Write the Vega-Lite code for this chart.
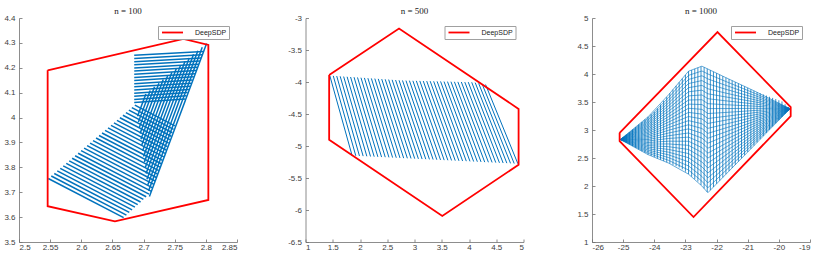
{
"$schema": "https://vega.github.io/schema/vega-lite/v6.json",
"autosize": {"type": "pad"},
"padding": {"left": 3, "top": 7, "right": 5, "bottom": 5},
"spacing": 68.5,
"bounds": "flush",
"datasets": {
"p1r": [{"o":0,"x":2.546,"y":4.19,"s":"DeepSDP"},{"o":1,"x":2.764,"y":4.316,"s":"DeepSDP"},{"o":2,"x":2.804,"y":4.292,"s":"DeepSDP"},{"o":3,"x":2.804,"y":3.669,"s":"DeepSDP"},{"o":4,"x":2.654,"y":3.583,"s":"DeepSDP"},{"o":5,"x":2.546,"y":3.644,"s":"DeepSDP"},{"o":6,"x":2.546,"y":4.19,"s":"DeepSDP"}],
"p1b": [
{"x":2.547,"y":3.755,"x2":2.668,"y2":3.598},{"x":2.5518,"y":3.7652,"x2":2.6725,"y2":3.6082},{"x":2.5566,"y":3.7753,"x2":2.6771,"y2":3.6187},{"x":2.5614,"y":3.7855,"x2":2.6816,"y2":3.6292},{"x":2.5662,"y":3.7957,"x2":2.6861,"y2":3.6398},{"x":2.571,"y":3.8059,"x2":2.6906,"y2":3.6503},{"x":2.5758,"y":3.816,"x2":2.6952,"y2":3.6607},{"x":2.5806,"y":3.8262,"x2":2.6997,"y2":3.6713},{"x":2.5853,"y":3.8364,"x2":2.7042,"y2":3.6818},{"x":2.5901,"y":3.8466,"x2":2.7087,"y2":3.6924},{"x":2.5949,"y":3.8567,"x2":2.7126,"y2":3.7037},{"x":2.5997,"y":3.8669,"x2":2.7145,"y2":3.7176},{"x":2.6045,"y":3.8771,"x2":2.7165,"y2":3.7314},{"x":2.6093,"y":3.8872,"x2":2.7185,"y2":3.7452},{"x":2.6141,"y":3.8974,"x2":2.7205,"y2":3.759},{"x":2.6189,"y":3.9076,"x2":2.7225,"y2":3.7728},{"x":2.6237,"y":3.9178,"x2":2.7244,"y2":3.7868},{"x":2.6285,"y":3.9279,"x2":2.7264,"y2":3.8006},{"x":2.6333,"y":3.9381,"x2":2.7284,"y2":3.8144},{"x":2.6381,"y":3.9483,"x2":2.7304,"y2":3.8282},{"x":2.6429,"y":3.9584,"x2":2.7324,"y2":3.842},{"x":2.6477,"y":3.9686,"x2":2.7344,"y2":3.8558},{"x":2.6524,"y":3.9788,"x2":2.7363,"y2":3.8697},{"x":2.6572,"y":3.989,"x2":2.7383,"y2":3.8835},{"x":2.662,"y":3.9991,"x2":2.7403,"y2":3.8973},{"x":2.6668,"y":4.0093,"x2":2.7423,"y2":3.9111},{"x":2.6716,"y":4.0195,"x2":2.7443,"y2":3.9249},{"x":2.6764,"y":4.0297,"x2":2.7462,"y2":3.9388},{"x":2.6812,"y":4.0398,"x2":2.7482,"y2":3.9526},{"x":2.686,"y":4.05,"x2":2.7502,"y2":3.9665},
{"x":2.685,"y":4.25,"x2":2.7962,"y2":4.265},{"x":2.685,"y":4.2373,"x2":2.7942,"y2":4.2523},{"x":2.685,"y":4.2247,"x2":2.7923,"y2":4.2397},{"x":2.685,"y":4.212,"x2":2.7903,"y2":4.227},{"x":2.685,"y":4.1993,"x2":2.7884,"y2":4.2143},{"x":2.685,"y":4.1867,"x2":2.7864,"y2":4.2017},{"x":2.685,"y":4.174,"x2":2.7845,"y2":4.189},{"x":2.685,"y":4.1613,"x2":2.7825,"y2":4.1763},{"x":2.685,"y":4.1487,"x2":2.7806,"y2":4.1637},{"x":2.685,"y":4.136,"x2":2.7786,"y2":4.151},{"x":2.685,"y":4.1233,"x2":2.7767,"y2":4.1383},{"x":2.685,"y":4.1107,"x2":2.7747,"y2":4.1257},{"x":2.685,"y":4.098,"x2":2.7728,"y2":4.113},{"x":2.685,"y":4.0853,"x2":2.7708,"y2":4.1003},{"x":2.685,"y":4.0727,"x2":2.7689,"y2":4.0877},{"x":2.685,"y":4.06,"x2":2.7669,"y2":4.075},
{"x":2.7094,"y":3.6829,"x2":2.8012,"y2":4.2974},{"x":2.7081,"y":3.7059,"x2":2.7942,"y2":4.2829},{"x":2.7067,"y":3.7289,"x2":2.7872,"y2":4.2684},{"x":2.7054,"y":3.7519,"x2":2.7803,"y2":4.254},{"x":2.704,"y":3.7749,"x2":2.7733,"y2":4.2395},{"x":2.7026,"y":3.7979,"x2":2.7664,"y2":4.225},{"x":2.7012,"y":3.8209,"x2":2.7594,"y2":4.2105},{"x":2.6999,"y":3.8439,"x2":2.7524,"y2":4.196},{"x":2.6985,"y":3.8669,"x2":2.7455,"y2":4.1816},{"x":2.6971,"y":3.8899,"x2":2.7385,"y2":4.1671},{"x":2.6958,"y":3.9129,"x2":2.7316,"y2":4.1526},{"x":2.6944,"y":3.9359,"x2":2.7246,"y2":4.1381},{"x":2.693,"y":3.9589,"x2":2.7176,"y2":4.1236},{"x":2.6917,"y":3.9819,"x2":2.7107,"y2":4.1091},{"x":2.6903,"y":4.0049,"x2":2.7037,"y2":4.0947}
],
"p2r": [{"o":0,"x":1.434,"y":-3.89,"s":"DeepSDP"},{"o":1,"x":2.716,"y":-3.166,"s":"DeepSDP"},{"o":2,"x":4.91,"y":-4.42,"s":"DeepSDP"},{"o":3,"x":4.91,"y":-5.293,"s":"DeepSDP"},{"o":4,"x":3.51,"y":-6.094,"s":"DeepSDP"},{"o":5,"x":1.434,"y":-4.903,"s":"DeepSDP"},{"o":6,"x":1.434,"y":-3.89,"s":"DeepSDP"}],
"p2b": [
{"x":1.446,"y":-3.9,"x2":1.855,"y2":-5.15},{"x":1.5095,"y":-3.904,"x2":1.9226,"y2":-5.153},{"x":1.573,"y":-3.907,"x2":1.9902,"y2":-5.156},{"x":1.6365,"y":-3.911,"x2":2.0578,"y2":-5.158},{"x":1.7,"y":-3.915,"x2":2.1254,"y2":-5.161},{"x":1.7636,"y":-3.918,"x2":2.193,"y2":-5.164},{"x":1.8271,"y":-3.922,"x2":2.2606,"y2":-5.167},{"x":1.8906,"y":-3.925,"x2":2.3282,"y2":-5.17},{"x":1.9541,"y":-3.929,"x2":2.3958,"y2":-5.173},{"x":2.0176,"y":-3.933,"x2":2.4634,"y2":-5.175},{"x":2.0811,"y":-3.936,"x2":2.531,"y2":-5.178},{"x":2.1446,"y":-3.94,"x2":2.5986,"y2":-5.181},{"x":2.2081,"y":-3.944,"x2":2.6662,"y2":-5.184},{"x":2.2716,"y":-3.947,"x2":2.7338,"y2":-5.187},{"x":2.3351,"y":-3.951,"x2":2.8014,"y2":-5.19},{"x":2.3987,"y":-3.955,"x2":2.869,"y2":-5.192},{"x":2.4622,"y":-3.958,"x2":2.9366,"y2":-5.195},{"x":2.5257,"y":-3.962,"x2":3.0042,"y2":-5.198},{"x":2.5892,"y":-3.966,"x2":3.0718,"y2":-5.201},{"x":2.6527,"y":-3.969,"x2":3.1394,"y2":-5.204},{"x":2.7162,"y":-3.973,"x2":3.207,"y2":-5.206},{"x":2.7797,"y":-3.976,"x2":3.2746,"y2":-5.209},{"x":2.8432,"y":-3.978,"x2":3.3422,"y2":-5.212},{"x":2.9067,"y":-3.979,"x2":3.4098,"y2":-5.215},{"x":2.9702,"y":-3.981,"x2":3.4774,"y2":-5.218},{"x":3.0337,"y":-3.982,"x2":3.545,"y2":-5.221},{"x":3.0972,"y":-3.983,"x2":3.6126,"y2":-5.223},{"x":3.1607,"y":-3.985,"x2":3.6802,"y2":-5.226},{"x":3.2243,"y":-3.986,"x2":3.7478,"y2":-5.229},{"x":3.2878,"y":-3.987,"x2":3.8154,"y2":-5.232},{"x":3.3513,"y":-3.989,"x2":3.883,"y2":-5.235},{"x":3.4148,"y":-3.99,"x2":3.9506,"y2":-5.237},{"x":3.4783,"y":-3.991,"x2":4.0182,"y2":-5.24},{"x":3.5418,"y":-3.993,"x2":4.0858,"y2":-5.243},{"x":3.6053,"y":-3.994,"x2":4.1534,"y2":-5.246},{"x":3.6688,"y":-3.995,"x2":4.221,"y2":-5.249},{"x":3.7323,"y":-3.997,"x2":4.2886,"y2":-5.252},{"x":3.7958,"y":-3.998,"x2":4.3562,"y2":-5.254},{"x":3.8593,"y":-4.0,"x2":4.4238,"y2":-5.257},{"x":3.9228,"y":-4.001,"x2":4.4914,"y2":-5.26},{"x":3.9863,"y":-4.002,"x2":4.559,"y2":-5.263},{"x":4.0498,"y":-4.004,"x2":4.6266,"y2":-5.266},{"x":4.1133,"y":-4.01,"x2":4.6942,"y2":-5.268},{"x":4.1768,"y":-4.02,"x2":4.7618,"y2":-5.271},{"x":4.2403,"y":-4.03,"x2":4.8294,"y2":-5.274},{"x":4.3038,"y":-4.04,"x2":4.897,"y2":-5.277}
],
"p3r": [{"o":0,"x":-25.113,"y":2.949,"s":"DeepSDP"},{"o":1,"x":-21.971,"y":4.75,"s":"DeepSDP"},{"o":2,"x":-19.62,"y":3.407,"s":"DeepSDP"},{"o":3,"x":-19.62,"y":3.247,"s":"DeepSDP"},{"o":4,"x":-22.74,"y":1.446,"s":"DeepSDP"},{"o":5,"x":-25.113,"y":2.801,"s":"DeepSDP"},{"o":6,"x":-25.113,"y":2.949,"s":"DeepSDP"}],
"p3v": [
{"x":-25.0,"y":2.871,"y2":2.803},{"x":-24.9,"y":2.917,"y2":2.772},{"x":-24.8,"y":2.962,"y2":2.742},{"x":-24.7,"y":3.008,"y2":2.712},{"x":-24.6,"y":3.053,"y2":2.681},{"x":-24.5,"y":3.099,"y2":2.651},{"x":-24.4,"y":3.144,"y2":2.621},{"x":-24.3,"y":3.19,"y2":2.59},{"x":-24.2,"y":3.235,"y2":2.56},{"x":-24.1,"y":3.281,"y2":2.537},{"x":-24.0,"y":3.326,"y2":2.514},{"x":-23.9,"y":3.387,"y2":2.491},{"x":-23.8,"y":3.455,"y2":2.469},{"x":-23.7,"y":3.522,"y2":2.446},{"x":-23.6,"y":3.59,"y2":2.423},{"x":-23.5,"y":3.656,"y2":2.4},{"x":-23.4,"y":3.722,"y2":2.377},{"x":-23.3,"y":3.788,"y2":2.354},{"x":-23.2,"y":3.853,"y2":2.331},{"x":-23.1,"y":3.919,"y2":2.298},{"x":-23.0,"y":3.984,"y2":2.255},{"x":-22.9,"y":4.05,"y2":2.211},{"x":-22.8,"y":4.071,"y2":2.167},{"x":-22.7,"y":4.092,"y2":2.124},{"x":-22.6,"y":4.113,"y2":2.08},{"x":-22.5,"y":4.134,"y2":2.018},{"x":-22.4,"y":4.121,"y2":1.955},{"x":-22.3,"y":4.095,"y2":1.893},{"x":-22.2,"y":4.068,"y2":1.925},{"x":-22.1,"y":4.041,"y2":1.982},{"x":-22.0,"y":4.015,"y2":2.039},{"x":-21.9,"y":3.988,"y2":2.096},{"x":-21.8,"y":3.961,"y2":2.153},{"x":-21.7,"y":3.935,"y2":2.21},{"x":-21.6,"y":3.909,"y2":2.266},{"x":-21.5,"y":3.883,"y2":2.323},{"x":-21.4,"y":3.857,"y2":2.38},{"x":-21.3,"y":3.831,"y2":2.437},{"x":-21.2,"y":3.805,"y2":2.494},{"x":-21.1,"y":3.779,"y2":2.55},{"x":-21.0,"y":3.753,"y2":2.607},{"x":-20.9,"y":3.726,"y2":2.664},{"x":-20.8,"y":3.7,"y2":2.721},{"x":-20.7,"y":3.677,"y2":2.778},{"x":-20.6,"y":3.657,"y2":2.835},{"x":-20.5,"y":3.636,"y2":2.891},{"x":-20.4,"y":3.615,"y2":2.948},{"x":-20.3,"y":3.594,"y2":3.005},{"x":-20.2,"y":3.573,"y2":3.062},{"x":-20.1,"y":3.552,"y2":3.119},{"x":-20.0,"y":3.531,"y2":3.175},{"x":-19.9,"y":3.51,"y2":3.232},{"x":-19.8,"y":3.46,"y2":3.289},{"x":-19.7,"y":3.41,"y2":3.346}
],
"p3h": [
{"k":0,"x":-25.09,"y":2.83},{"k":0,"x":-24.2,"y":2.56},{"k":0,"x":-23.54,"y":2.409},{"k":0,"x":-22.9,"y":2.211},{"k":0,"x":-22.47,"y":1.999},{"k":0,"x":-22.28,"y":1.88},{"k":0,"x":-21.72,"y":2.198},{"k":0,"x":-20.76,"y":2.743},{"k":0,"x":-19.64,"y":3.38},
{"k":1,"x":-25.09,"y":2.83},{"k":1,"x":-24.2,"y":2.587},{"k":1,"x":-23.54,"y":2.458},{"k":1,"x":-22.9,"y":2.285},{"k":1,"x":-22.47,"y":2.085},{"k":1,"x":-22.28,"y":1.968},{"k":1,"x":-21.72,"y":2.268},{"k":1,"x":-20.76,"y":2.781},{"k":1,"x":-19.64,"y":3.38},
{"k":2,"x":-25.09,"y":2.83},{"k":2,"x":-24.2,"y":2.614},{"k":2,"x":-23.54,"y":2.507},{"k":2,"x":-22.9,"y":2.358},{"k":2,"x":-22.47,"y":2.17},{"k":2,"x":-22.28,"y":2.057},{"k":2,"x":-21.72,"y":2.337},{"k":2,"x":-20.76,"y":2.819},{"k":2,"x":-19.64,"y":3.38},
{"k":3,"x":-25.09,"y":2.83},{"k":3,"x":-24.2,"y":2.641},{"k":3,"x":-23.54,"y":2.556},{"k":3,"x":-22.9,"y":2.432},{"k":3,"x":-22.47,"y":2.256},{"k":3,"x":-22.28,"y":2.145},{"k":3,"x":-21.72,"y":2.407},{"k":3,"x":-20.76,"y":2.857},{"k":3,"x":-19.64,"y":3.38},
{"k":4,"x":-25.09,"y":2.83},{"k":4,"x":-24.2,"y":2.668},{"k":4,"x":-23.54,"y":2.604},{"k":4,"x":-22.9,"y":2.505},{"k":4,"x":-22.47,"y":2.342},{"k":4,"x":-22.28,"y":2.233},{"k":4,"x":-21.72,"y":2.477},{"k":4,"x":-20.76,"y":2.895},{"k":4,"x":-19.64,"y":3.38},
{"k":5,"x":-25.09,"y":2.83},{"k":5,"x":-24.2,"y":2.695},{"k":5,"x":-23.54,"y":2.653},{"k":5,"x":-22.9,"y":2.579},{"k":5,"x":-22.47,"y":2.427},{"k":5,"x":-22.28,"y":2.322},{"k":5,"x":-21.72,"y":2.546},{"k":5,"x":-20.76,"y":2.932},{"k":5,"x":-19.64,"y":3.38},
{"k":6,"x":-25.09,"y":2.83},{"k":6,"x":-24.2,"y":2.722},{"k":6,"x":-23.54,"y":2.702},{"k":6,"x":-22.9,"y":2.652},{"k":6,"x":-22.47,"y":2.513},{"k":6,"x":-22.28,"y":2.41},{"k":6,"x":-21.72,"y":2.616},{"k":6,"x":-20.76,"y":2.97},{"k":6,"x":-19.64,"y":3.38},
{"k":7,"x":-25.09,"y":2.83},{"k":7,"x":-24.2,"y":2.749},{"k":7,"x":-23.54,"y":2.751},{"k":7,"x":-22.9,"y":2.726},{"k":7,"x":-22.47,"y":2.598},{"k":7,"x":-22.28,"y":2.499},{"k":7,"x":-21.72,"y":2.686},{"k":7,"x":-20.76,"y":3.008},{"k":7,"x":-19.64,"y":3.38},
{"k":8,"x":-25.09,"y":2.83},{"k":8,"x":-24.2,"y":2.776},{"k":8,"x":-23.54,"y":2.8},{"k":8,"x":-22.9,"y":2.799},{"k":8,"x":-22.47,"y":2.684},{"k":8,"x":-22.28,"y":2.587},{"k":8,"x":-21.72,"y":2.755},{"k":8,"x":-20.76,"y":3.046},{"k":8,"x":-19.64,"y":3.38},
{"k":9,"x":-25.09,"y":2.83},{"k":9,"x":-24.2,"y":2.803},{"k":9,"x":-23.54,"y":2.849},{"k":9,"x":-22.9,"y":2.873},{"k":9,"x":-22.47,"y":2.77},{"k":9,"x":-22.28,"y":2.675},{"k":9,"x":-21.72,"y":2.825},{"k":9,"x":-20.76,"y":3.084},{"k":9,"x":-19.64,"y":3.38},
{"k":10,"x":-25.09,"y":2.83},{"k":10,"x":-24.2,"y":2.83},{"k":10,"x":-23.54,"y":2.897},{"k":10,"x":-22.9,"y":2.947},{"k":10,"x":-22.47,"y":2.855},{"k":10,"x":-22.28,"y":2.764},{"k":10,"x":-21.72,"y":2.895},{"k":10,"x":-20.76,"y":3.122},{"k":10,"x":-19.64,"y":3.38},
{"k":11,"x":-25.09,"y":2.83},{"k":11,"x":-24.2,"y":2.857},{"k":11,"x":-23.54,"y":2.946},{"k":11,"x":-22.9,"y":3.02},{"k":11,"x":-22.47,"y":2.941},{"k":11,"x":-22.28,"y":2.852},{"k":11,"x":-21.72,"y":2.964},{"k":11,"x":-20.76,"y":3.16},{"k":11,"x":-19.64,"y":3.38},
{"k":12,"x":-25.09,"y":2.83},{"k":12,"x":-24.2,"y":2.884},{"k":12,"x":-23.54,"y":2.995},{"k":12,"x":-22.9,"y":3.094},{"k":12,"x":-22.47,"y":3.027},{"k":12,"x":-22.28,"y":2.94},{"k":12,"x":-21.72,"y":3.034},{"k":12,"x":-20.76,"y":3.198},{"k":12,"x":-19.64,"y":3.38},
{"k":13,"x":-25.09,"y":2.83},{"k":13,"x":-24.2,"y":2.911},{"k":13,"x":-23.54,"y":3.044},{"k":13,"x":-22.9,"y":3.167},{"k":13,"x":-22.47,"y":3.112},{"k":13,"x":-22.28,"y":3.029},{"k":13,"x":-21.72,"y":3.104},{"k":13,"x":-20.76,"y":3.235},{"k":13,"x":-19.64,"y":3.38},
{"k":14,"x":-25.09,"y":2.83},{"k":14,"x":-24.2,"y":2.938},{"k":14,"x":-23.54,"y":3.093},{"k":14,"x":-22.9,"y":3.241},{"k":14,"x":-22.47,"y":3.198},{"k":14,"x":-22.28,"y":3.117},{"k":14,"x":-21.72,"y":3.174},{"k":14,"x":-20.76,"y":3.273},{"k":14,"x":-19.64,"y":3.38},
{"k":15,"x":-25.09,"y":2.83},{"k":15,"x":-24.2,"y":2.965},{"k":15,"x":-23.54,"y":3.142},{"k":15,"x":-22.9,"y":3.314},{"k":15,"x":-22.47,"y":3.284},{"k":15,"x":-22.28,"y":3.205},{"k":15,"x":-21.72,"y":3.243},{"k":15,"x":-20.76,"y":3.311},{"k":15,"x":-19.64,"y":3.38},
{"k":16,"x":-25.09,"y":2.83},{"k":16,"x":-24.2,"y":2.992},{"k":16,"x":-23.54,"y":3.19},{"k":16,"x":-22.9,"y":3.388},{"k":16,"x":-22.47,"y":3.369},{"k":16,"x":-22.28,"y":3.294},{"k":16,"x":-21.72,"y":3.313},{"k":16,"x":-20.76,"y":3.349},{"k":16,"x":-19.64,"y":3.38},
{"k":17,"x":-25.09,"y":2.83},{"k":17,"x":-24.2,"y":3.019},{"k":17,"x":-23.54,"y":3.239},{"k":17,"x":-22.9,"y":3.462},{"k":17,"x":-22.47,"y":3.455},{"k":17,"x":-22.28,"y":3.382},{"k":17,"x":-21.72,"y":3.383},{"k":17,"x":-20.76,"y":3.387},{"k":17,"x":-19.64,"y":3.38},
{"k":18,"x":-25.09,"y":2.83},{"k":18,"x":-24.2,"y":3.046},{"k":18,"x":-23.54,"y":3.288},{"k":18,"x":-22.9,"y":3.535},{"k":18,"x":-22.47,"y":3.541},{"k":18,"x":-22.28,"y":3.47},{"k":18,"x":-21.72,"y":3.452},{"k":18,"x":-20.76,"y":3.425},{"k":18,"x":-19.64,"y":3.38},
{"k":19,"x":-25.09,"y":2.83},{"k":19,"x":-24.2,"y":3.073},{"k":19,"x":-23.54,"y":3.337},{"k":19,"x":-22.9,"y":3.609},{"k":19,"x":-22.47,"y":3.626},{"k":19,"x":-22.28,"y":3.559},{"k":19,"x":-21.72,"y":3.522},{"k":19,"x":-20.76,"y":3.463},{"k":19,"x":-19.64,"y":3.38},
{"k":20,"x":-25.09,"y":2.83},{"k":20,"x":-24.2,"y":3.1},{"k":20,"x":-23.54,"y":3.386},{"k":20,"x":-22.9,"y":3.682},{"k":20,"x":-22.47,"y":3.712},{"k":20,"x":-22.28,"y":3.647},{"k":20,"x":-21.72,"y":3.592},{"k":20,"x":-20.76,"y":3.501},{"k":20,"x":-19.64,"y":3.38},
{"k":21,"x":-25.09,"y":2.83},{"k":21,"x":-24.2,"y":3.127},{"k":21,"x":-23.54,"y":3.435},{"k":21,"x":-22.9,"y":3.756},{"k":21,"x":-22.47,"y":3.797},{"k":21,"x":-22.28,"y":3.736},{"k":21,"x":-21.72,"y":3.661},{"k":21,"x":-20.76,"y":3.538},{"k":21,"x":-19.64,"y":3.38},
{"k":22,"x":-25.09,"y":2.83},{"k":22,"x":-24.2,"y":3.154},{"k":22,"x":-23.54,"y":3.484},{"k":22,"x":-22.9,"y":3.829},{"k":22,"x":-22.47,"y":3.883},{"k":22,"x":-22.28,"y":3.824},{"k":22,"x":-21.72,"y":3.731},{"k":22,"x":-20.76,"y":3.576},{"k":22,"x":-19.64,"y":3.38},
{"k":23,"x":-25.09,"y":2.83},{"k":23,"x":-24.2,"y":3.181},{"k":23,"x":-23.54,"y":3.532},{"k":23,"x":-22.9,"y":3.903},{"k":23,"x":-22.47,"y":3.969},{"k":23,"x":-22.28,"y":3.912},{"k":23,"x":-21.72,"y":3.801},{"k":23,"x":-20.76,"y":3.614},{"k":23,"x":-19.64,"y":3.38},
{"k":24,"x":-25.09,"y":2.83},{"k":24,"x":-24.2,"y":3.208},{"k":24,"x":-23.54,"y":3.581},{"k":24,"x":-22.9,"y":3.976},{"k":24,"x":-22.47,"y":4.054},{"k":24,"x":-22.28,"y":4.001},{"k":24,"x":-21.72,"y":3.87},{"k":24,"x":-20.76,"y":3.652},{"k":24,"x":-19.64,"y":3.38},
{"k":25,"x":-25.09,"y":2.83},{"k":25,"x":-24.2,"y":3.235},{"k":25,"x":-23.54,"y":3.63},{"k":25,"x":-22.9,"y":4.05},{"k":25,"x":-22.47,"y":4.14},{"k":25,"x":-22.28,"y":4.089},{"k":25,"x":-21.72,"y":3.94},{"k":25,"x":-20.76,"y":3.69},{"k":25,"x":-19.64,"y":3.38}
]
},
"hconcat": [
{
"width": 218, "height": 224,
"title": "n = 100",
"encoding": {
"x": {"field": "x", "type": "quantitative", "title": null, "scale": {"domain": [2.5, 2.85], "nice": false, "zero": false}, "axis": {"values": [2.5, 2.55, 2.6, 2.65, 2.7, 2.75, 2.8, 2.85], "labelExpr": "datum.value < 0 ? '-' + format(-datum.value, '~g') : format(datum.value, '~g')"}},
"y": {"field": "y", "type": "quantitative", "title": null, "scale": {"domain": [3.5, 4.4], "nice": false, "zero": false}, "axis": {"values": [3.5, 3.6, 3.7, 3.8, 3.9, 4, 4.1, 4.2, 4.3, 4.4], "labelExpr": "datum.value < 0 ? '-' + format(-datum.value, '~g') : format(datum.value, '~g')"}}
},
"layer": [
{"data": {"name": "p1b"}, "mark": {"type": "rule", "color": "#0072BD", "strokeWidth": 1.5}, "encoding": {"x2": {"field": "x2"}, "y2": {"field": "y2"}}},
{"data": {"name": "p1r"}, "mark": {"type": "line", "strokeWidth": 1.8}, "encoding": {"order": {"field": "o", "type": "quantitative"}, "color": {"field": "s", "type": "nominal", "scale": {"domain": ["DeepSDP"], "range": ["#ff0000"]}, "legend": {"title": null}}}}
]
},
{
"width": 218, "height": 224,
"title": "n = 500",
"encoding": {
"x": {"field": "x", "type": "quantitative", "title": null, "scale": {"domain": [1, 5], "nice": false, "zero": false}, "axis": {"values": [1, 1.5, 2, 2.5, 3, 3.5, 4, 4.5, 5], "labelExpr": "datum.value < 0 ? '-' + format(-datum.value, '~g') : format(datum.value, '~g')"}},
"y": {"field": "y", "type": "quantitative", "title": null, "scale": {"domain": [-6.5, -3], "nice": false, "zero": false}, "axis": {"values": [-6.5, -6, -5.5, -5, -4.5, -4, -3.5, -3], "labelExpr": "datum.value < 0 ? '-' + format(-datum.value, '~g') : format(datum.value, '~g')"}}
},
"layer": [
{"data": {"name": "p2b"}, "mark": {"type": "rule", "color": "#0072BD", "strokeWidth": 1.0}, "encoding": {"x2": {"field": "x2"}, "y2": {"field": "y2"}}},
{"data": {"name": "p2r"}, "mark": {"type": "line", "strokeWidth": 1.8}, "encoding": {"order": {"field": "o", "type": "quantitative"}, "color": {"field": "s", "type": "nominal", "scale": {"domain": ["DeepSDP"], "range": ["#ff0000"]}, "legend": {"title": null}}}}
]
},
{
"width": 218, "height": 224,
"title": "n = 1000",
"encoding": {
"x": {"field": "x", "type": "quantitative", "title": null, "scale": {"domain": [-26, -19], "nice": false, "zero": false}, "axis": {"values": [-26, -25, -24, -23, -22, -21, -20, -19], "labelExpr": "datum.value < 0 ? '-' + format(-datum.value, '~g') : format(datum.value, '~g')"}},
"y": {"field": "y", "type": "quantitative", "title": null, "scale": {"domain": [1, 5], "nice": false, "zero": false}, "axis": {"values": [1, 1.5, 2, 2.5, 3, 3.5, 4, 4.5, 5], "labelExpr": "datum.value < 0 ? '-' + format(-datum.value, '~g') : format(datum.value, '~g')"}}
},
"layer": [
{"data": {"name": "p3v"}, "mark": {"type": "rule", "color": "#0072BD", "strokeWidth": 0.8}, "encoding": {"y2": {"field": "y2"}}},
{"data": {"name": "p3h"}, "mark": {"type": "line", "color": "#0072BD", "strokeWidth": 0.6}, "encoding": {"detail": {"field": "k", "type": "nominal"}}},
{"data": {"name": "p3r"}, "mark": {"type": "line", "strokeWidth": 1.8}, "encoding": {"order": {"field": "o", "type": "quantitative"}, "color": {"field": "s", "type": "nominal", "scale": {"domain": ["DeepSDP"], "range": ["#ff0000"]}, "legend": {"title": null}}}}
]
}
],
"resolve": {"scale": {"color": "independent"}, "legend": {"color": "independent"}},
"config": {
"view": {"stroke": null},
"axis": {"grid": false, "domainColor": "#707070", "tickColor": "#707070", "labelColor": "#404040", "labelFont": "Liberation Sans", "labelFontSize": 8, "tickSize": -3, "domainWidth": 0.8, "tickWidth": 0.8},
"axisX": {"labelPadding": 4},
"axisY": {"labelPadding": 7},
"legend": {"orient": "top-right", "offset": 8, "padding": 2, "strokeColor": "#a0a0a0", "fillColor": "white", "symbolType": "M-3,0H3", "symbolSize": 49, "symbolOffset": 8, "symbolStrokeWidth": 1.8, "labelFontSize": 7, "labelFont": "Liberation Sans", "labelColor": "#222222", "labelOffset": 18, "cornerRadius": 0},
"title": {"font": "Liberation Serif", "fontSize": 9, "fontWeight": "normal", "color": "#222222", "offset": -2}
}
}
